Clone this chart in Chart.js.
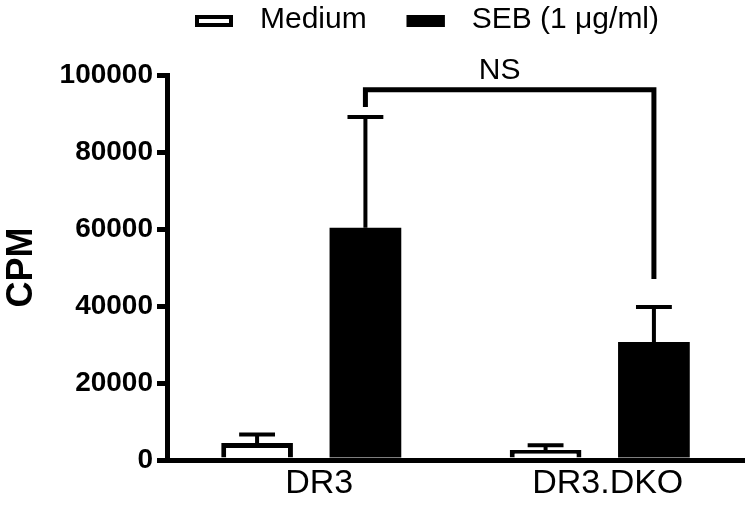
<!DOCTYPE html>
<html><head><meta charset="utf-8">
<script src="https://cdn.jsdelivr.net/npm/chart.js@4.4.1/dist/chart.umd.min.js"></script>
<style>html,body{margin:0;padding:0;background:#fff;} #wrap{width:750px;height:507px;}</style>
</head><body><div id="wrap"><canvas id="c" width="750" height="507"></canvas></div>
<script>
// ---- data ----
const categories = ['DR3', 'DR3.DKO'];
const seriesNames = ['Medium', 'SEB (1 μg/ml)'];
const mediumValues = [4400, 2600];
const mediumErrors = [2200, 1200];
const sebValues = [60300, 30650];
const sebErrors = [28800, 9100];
const yTicks = [0, 20000, 40000, 60000, 80000, 100000];
const bracketLabel = 'NS';
const bracketLevel = 96200;
const bracketEnds = [91700, 47000];

// ---- styles ----
const FONT = '"Liberation Sans", Arial, Helvetica, sans-serif';
const errorLists = [mediumErrors, sebErrors];
Chart.defaults.color = '#000';
Chart.defaults.font.family = FONT;

const errorBarPlugin = {
  id: 'errorBars',
  afterDatasetsDraw(chart) {
    const ctx = chart.ctx, y = chart.scales.y;
    chart.data.datasets.forEach((ds, i) => {
      const meta = chart.getDatasetMeta(i);
      meta.data.forEach((bar, j) => {
        const top = y.getPixelForValue(ds.data[j] + errorLists[i][j]);
        const half = bar.width / 4;
        ctx.save();
        ctx.strokeStyle = '#000';
        ctx.lineWidth = 4;
        ctx.beginPath();
        ctx.moveTo(bar.x, bar.y);
        ctx.lineTo(bar.x, top);
        ctx.moveTo(bar.x - half, top);
        ctx.lineTo(bar.x + half, top);
        ctx.stroke();
        ctx.restore();
      });
    });
  }
};

const bracketPlugin = {
  id: 'bracket',
  afterDatasetsDraw(chart) {
    const ctx = chart.ctx, y = chart.scales.y;
    const meta = chart.getDatasetMeta(1);
    const x1 = meta.data[0].x, x2 = meta.data[1].x;
    const yl = y.getPixelForValue(bracketLevel);
    ctx.save();
    ctx.strokeStyle = '#000';
    ctx.lineWidth = 5;
    ctx.lineJoin = 'miter';
    ctx.beginPath();
    ctx.moveTo(x1, y.getPixelForValue(bracketEnds[0]));
    ctx.lineTo(x1, yl);
    ctx.lineTo(x2, yl);
    ctx.lineTo(x2, y.getPixelForValue(bracketEnds[1]));
    ctx.stroke();
    ctx.fillStyle = '#000';
    ctx.font = '30px ' + FONT;
    ctx.textAlign = 'center';
    ctx.textBaseline = 'alphabetic';
    ctx.fillText(bracketLabel, (x1 + x2) / 2 - 10, yl - 11);
    ctx.restore();
  }
};

const legendPlugin = {
  id: 'customLegend',
  afterDraw(chart) {
    const ctx = chart.ctx;
    let x = 195;
    const boxTop = 15, boxW = 38, boxH = 12, textGap = 27, itemGap = 40, baseline = 28;
    ctx.save();
    ctx.font = '30px ' + FONT;
    ctx.textBaseline = 'alphabetic';
    ctx.textAlign = 'left';
    chart.data.datasets.forEach(ds => {
      ctx.fillStyle = ds.backgroundColor;
      ctx.fillRect(x, boxTop, boxW, boxH);
      ctx.strokeStyle = ds.borderColor;
      ctx.lineWidth = 4;
      ctx.strokeRect(x + 2, boxTop + 2, boxW - 4, boxH - 4);
      ctx.fillStyle = '#000';
      ctx.fillText(ds.label, x + boxW + textGap, baseline);
      x += boxW + textGap + ctx.measureText(ds.label).width + itemGap;
    });
    ctx.restore();
  }
};

new Chart(document.getElementById('c'), {
  type: 'bar',
  data: {
    labels: categories,
    datasets: [
      { label: seriesNames[0], data: mediumValues, backgroundColor: '#ffffff', borderColor: '#000000', borderWidth: 5 },
      { label: seriesNames[1], data: sebValues, backgroundColor: '#000000', borderColor: '#000000', borderWidth: 0 }
    ]
  },
  options: {
    responsive: false,
    animation: false,
    devicePixelRatio: 1,
    barPercentage: 0.662,
    categoryPercentage: 0.751,
    layout: { padding: { top: 75, right: 6, left: 0, bottom: 0 } },
    plugins: { legend: { display: false }, tooltip: { enabled: false } },
    scales: {
      x: {
        type: 'category',
        grid: { display: false, drawTicks: false },
        border: { display: true, color: '#000', width: 5 },
        ticks: { font: { size: 34 }, padding: 3, labelOffset: 8, color: '#000' },
        afterFit: s => { s.height = 47; }
      },
      y: {
        min: 0, max: 100000,
        afterBuildTicks: s => { s.ticks = yTicks.map(v => ({ value: v })); },
        grid: { display: true, drawOnChartArea: false, drawTicks: true, tickLength: 10, lineWidth: 5, color: '#000' },
        border: { display: true, color: '#000', width: 5 },
        ticks: { font: { size: 28, weight: 'bold' }, padding: 4, color: '#000', callback: v => String(v) },
        title: { display: true, text: 'CPM', font: { size: 36, weight: 'bold' }, padding: 0, color: '#000' },
        afterFit: s => { s.width = 167; }
      }
    }
  },
  plugins: [errorBarPlugin, bracketPlugin, legendPlugin]
});
</script>
</body></html>
